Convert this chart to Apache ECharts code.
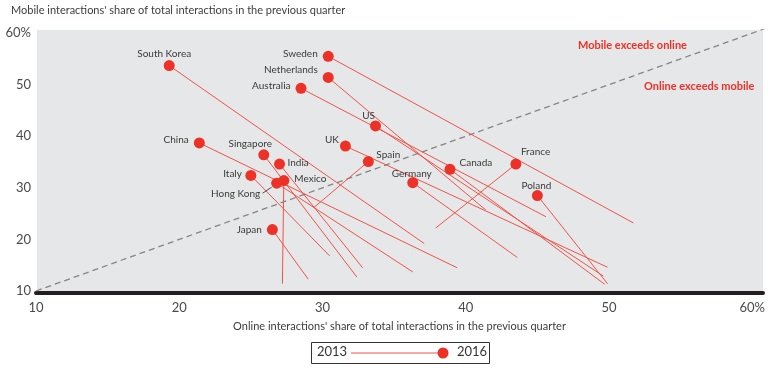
<!DOCTYPE html>
<html>
<head>
<meta charset="utf-8">
<script src="https://cdn.jsdelivr.net/npm/echarts@6/dist/echarts.min.js"></script>
<style>
html,body{margin:0;padding:0;background:#fff;}
#c{width:776px;height:371px;}
</style>
</head>
<body>
<div id="c"></div>
<script>
const countries = ['South Korea','Sweden','Netherlands','Australia','US','UK','Spain','China','Singapore','India','Italy','Mexico','Hong Kong','Japan','Canada','France','Germany','Poland'];
const online2016 = [19.3,30.4,30.4,28.5,33.7,31.6,33.2,21.4,25.9,27.0,25.0,27.3,26.8,26.5,38.9,43.5,36.3,45.0];
const mobile2016 = [53.7,55.5,51.4,49.3,42.0,38.1,35.1,38.7,36.4,34.6,32.4,31.4,30.9,21.9,33.6,34.6,31.0,28.5];
const online2013 = [37.1,51.7,41.4,45.6,49.6,49.9,29.4,39.4,32.4,32.8,30.5,27.2,36.3,29.0,49.7,37.9,43.6,49.9];
const mobile2013 = [19.2,23.2,25.7,24.4,12.9,14.6,26.2,14.5,12.7,14.5,16.8,11.4,13.7,12.3,11.3,22.2,16.5,11.4];
const years = ['2013','2016'];
const axisTicks = [10,20,30,40,50,60];
const parity = [10,61];
const zoneNotes = ['Mobile exceeds online','Online exceeds mobile'];
const yTitle = "Mobile interactions' share of total interactions in the previous quarter";
const xTitle = "Online interactions' share of total interactions in the previous quarter";

// label placement (styling only)
const place = {
  'South Korea':{p:'top',o:[-5,4]},
  'Sweden':{p:'left',o:[0,-3]},
  'Netherlands':{p:'left',o:[0,-8]},
  'Australia':{p:'left',o:[0,-3]},
  'US':{p:'left',o:[10,-10]},
  'UK':{p:'left',o:[4,-6]},
  'Spain':{p:'right',o:[-2.5,-7]},
  'China':{p:'left',o:[0,-3]},
  'Singapore':{p:'top',o:[-13.5,4]},
  'India':{p:'right',o:[-2.5,-1]},
  'Italy':{p:'left',o:[1.5,-2]},
  'Mexico':{p:'right',o:[0,-2]},
  'Hong Kong':{p:'left',o:[-6,10.5],leader:true},
  'Japan':{p:'left',o:[0,0]},
  'Canada':{p:'right',o:[-1,-6]},
  'France':{p:'right',o:[-5.5,-12]},
  'Germany':{p:'top',o:[-1,6.5]},
  'Poland':{p:'top',o:[-1,5.5]}
};

const RED = '#ee3126';
const LINE = '#f05349';
const FONT = 'Lato';

const fmt = v => {
  if (axisTicks.indexOf(v) < 0) return '';
  return v === axisTicks[axisTicks.length-1] ? v + '%' : String(v);
};

const dots = countries.map((c,i) => ({
  name: c,
  value: [online2016[i], mobile2016[i]],
  label: {position: place[c].p, offset: place[c].o}
}));
const links = countries.map((c,i) => ({
  coords: [[online2013[i], mobile2013[i]], [online2016[i], mobile2016[i]]]
}));

const chart = echarts.init(document.getElementById('c'), null, {renderer:'canvas'});
const graphics = [
  {type:'rect', z:-10, silent:true, shape:{x:37, y:30, width:726, height:261}, style:{fill:'#e6e7e8'}},
  {type:'text', left: 11, top: 5, style:{text: yTitle, font: '11px ' + FONT, fill:'#3c3c3c'}},
  {type:'text', left: 578, top: 40, z: 50, style:{text: zoneNotes[0], font: 'bold 11px ' + FONT, fill: RED}},
  {type:'text', left: 644, top: 81, z: 50, style:{text: zoneNotes[1], font: 'bold 11px ' + FONT, fill: RED}},
  {type:'rect', shape:{x:311.5, y:342.5, width:178, height:21}, style:{fill:'#fff', stroke:'#333', lineWidth:1}},
  {type:'text', left: 317, top: 345.5, style:{text: years[0], font:'13px ' + FONT, fill:'#333'}},
  {type:'line', shape:{x1:351, y1:353, x2:443, y2:353}, style:{stroke: LINE, lineWidth:1}},
  {type:'circle', shape:{cx:443, cy:353, r:5.5}, style:{fill: RED}},
  {type:'text', left: 457, top: 345.5, style:{text: years[1], font:'13px ' + FONT, fill:'#333'}}
];
chart.setOption({
  animation: false,
  textStyle: {fontFamily: FONT},
  grid: {left: 36, right: 13, top: 30, bottom: 80},
  xAxis: {
    type: 'value', min: 10, max: 60.75, interval: 10,
    offset: 2,
    name: xTitle, nameLocation: 'middle', nameGap: 28,
    nameTextStyle: {fontFamily: FONT, fontSize: 11, color: '#3c3c3c'},
    axisLine: {show: true, lineStyle: {color: '#231f20', width: 4}},
    axisTick: {show: false},
    splitLine: {show: false},
    axisLabel: {formatter: fmt, fontFamily: FONT, fontSize: 13, color: '#4a4a4a', margin: 8, showMaxLabel: true}
  },
  yAxis: {
    type: 'value', min: 10, max: 60.6, interval: 10,
    axisLine: {show: false},
    axisTick: {show: false},
    splitLine: {show: false},
    axisLabel: {formatter: fmt, fontFamily: FONT, fontSize: 13, color: '#4a4a4a', margin: 5}
  },
  graphic: graphics,
  series: [
    {
      type: 'line', data: [[parity[0],parity[0]],[parity[1],parity[1]]],
      symbol: 'none', silent: true, z: 1,
      lineStyle: {color: '#858585', width: 1.3, type: [6,4]}
    },
    {
      type: 'lines', coordinateSystem: 'cartesian2d', data: links, z: 2,
      lineStyle: {color: LINE, width: 1, opacity: 1}
    },
    {
      type: 'scatter', data: dots, symbolSize: 11, z: 3,
      itemStyle: {color: RED, opacity: 1},
      label: {show: true, formatter: p => p.name, fontFamily: FONT, fontSize: 10, color: '#3a3a3a', distance: 5}
    }
  ]
});
// leader line for labels that sit away from their dot, anchored via the library's scale
countries.forEach((c,i) => {
  if (!place[c].leader) return;
  const pt = chart.convertToPixel({seriesIndex: 2}, [online2016[i], mobile2016[i]]);
  graphics.push({type:'line', z: 40, shape:{x1: pt[0]-14, y1: pt[1]+10, x2: pt[0]-5, y2: pt[1]+4}, style:{stroke:'#4a4a4a', lineWidth:1}});
});
chart.setOption({graphic: graphics});
</script>
</body>
</html>
